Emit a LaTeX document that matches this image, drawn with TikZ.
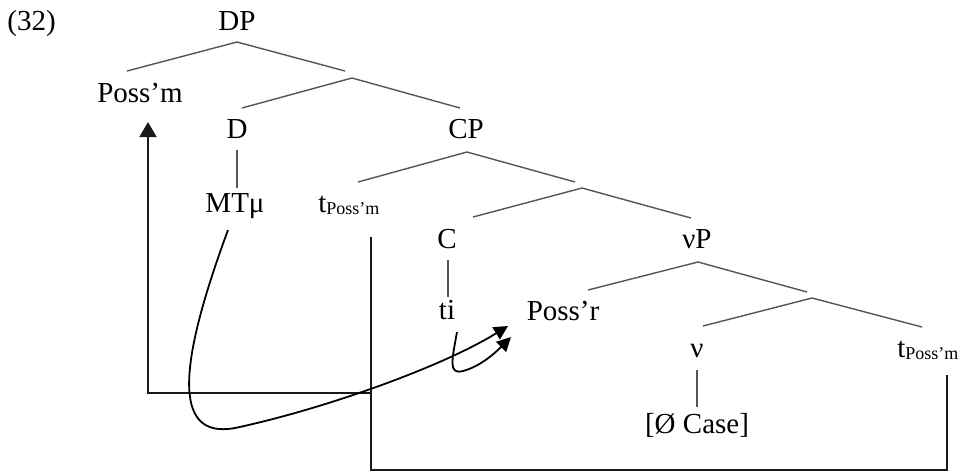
\documentclass[tikz,border=0pt]{standalone}
\usepackage{fontspec}
\setmainfont{Liberation Serif}
\usetikzlibrary{arrows.meta}
\newcommand{\trc}{t\raisebox{-1.3pt}{\fontsize{9}{10}\selectfont Poss’m}}
\begin{document}
\begin{tikzpicture}[x=0.5pt,y=-0.5pt,
  lbl/.style={inner sep=0pt,anchor=base,font=\fontsize{14.5}{17}\selectfont},
  branch/.style={draw={rgb,255:red,85;green,85;blue,85},line width=0.7pt},
  move/.style={draw=black!90,line width=0.95pt},
  bigtip/.style={-{Triangle[length=7.5pt,width=8.5pt]}},
  smalltip/.style={-{Triangle[length=7pt,width=7pt]}}]
\useasboundingbox (0,0) rectangle (968,473);
\fill[white] (0,0) rectangle (968,473);

% labels
\node[lbl,anchor=base west] (ex) at (7,30) {(32)};
\node[lbl] (DP) at (237,30) {DP};
\node[lbl] (Possm) at (140,102) {Poss’m};
\node[lbl] (D) at (237,138) {D};
\node[lbl] (CP) at (466,138) {CP};
\node[lbl] (MT) at (235,212) {MTμ};
\node[lbl,anchor=base west] (t1) at (318,212) {\trc};
\node[lbl] (C) at (447,248) {C};
\node[lbl] (vP) at (697,248) {νP};
\node[lbl] (ti) at (447,319) {ti};
\node[lbl] (Possr) at (563,320) {Poss’r};
\node[lbl] (v) at (697,357) {ν};
\node[lbl,anchor=base west] (t2) at (897,357) {\trc};
\node[lbl] (Case) at (697,433) {[Ø Case]};

% branch points
\coordinate (DPb) at (237,42);
\coordinate (Dbar) at (352,78);
\coordinate (CPb) at (467,152);
\coordinate (Cbar) at (582,188);
\coordinate (vPb) at (698,262);
\coordinate (vbar) at (812,298);

% tree branches
\draw[branch] (DPb) -- (127,71);
\draw[branch] (DPb) -- (345,71);
\draw[branch] (Dbar) -- (242,108);
\draw[branch] (Dbar) -- (460,108);
\draw[branch] (237,150) -- (237,188);
\draw[branch] (CPb) -- (358,182);
\draw[branch] (CPb) -- (575,182);
\draw[branch] (Cbar) -- (473,217);
\draw[branch] (Cbar) -- (691,218);
\draw[branch] (448,260) -- (448,297);
\draw[branch] (vPb) -- (588,290);
\draw[branch] (vPb) -- (807,292);
\draw[branch] (vbar) -- (703,326);
\draw[branch] (vbar) -- (922,327);
\draw[branch] (697,370) -- (697,407);

% movement of the possessum
\coordinate (t1foot) at (371,237);
\coordinate (t2foot) at (947,375);
\coordinate (Possmfoot) at (148,122);
\draw[move] (t1foot) -- (371,470) -- (947,470) -- (t2foot);
\draw[move,bigtip] (371,393) -- (148,393) -- (Possmfoot);

% movement to the possessor position
\coordinate (MTfoot) at (228,230);
\coordinate (tifoot) at (457,332);
\coordinate (Possrtip1) at (508,326);
\coordinate (Possrtip2) at (511,337);
\draw[black,line width=0.9pt,smalltip] (MTfoot) .. controls (180,360) and (170,440) .. (235,428)
   .. controls (320,410) and (440,368) .. (Possrtip1);
\draw[black,line width=0.9pt,smalltip] (tifoot) .. controls (452,360) and (448,375) .. (463,371)
   .. controls (482,366) and (498,350) .. (Possrtip2);
\end{tikzpicture}
\end{document}
